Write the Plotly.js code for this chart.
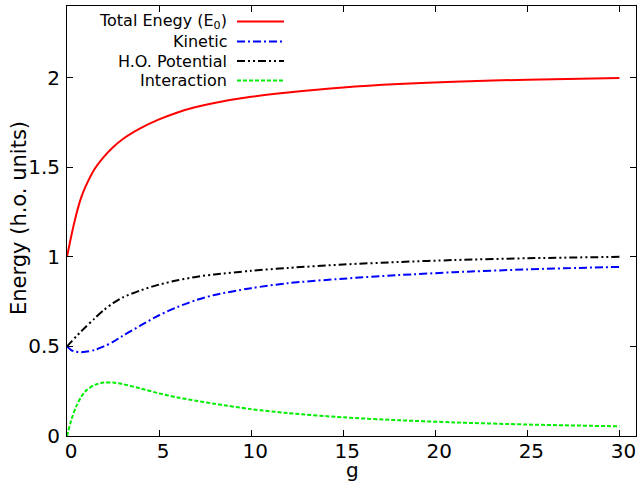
<!DOCTYPE html>
<html>
<head>
<meta charset="utf-8">
<script src="https://cdn.plot.ly/plotly-3.0.1.min.js"></script>
<style>html,body{margin:0;padding:0;background:#fff;}#chart{width:637px;height:482px;}</style>
</head>
<body>
<div id="chart"></div>
<script>
// coupling strength g
const gValues = [0, 0.25, 0.5, 0.75, 1, 1.5, 2, 2.5, 3, 4, 5, 6, 7, 8, 10, 12, 15, 18, 21, 25, 30];
// energies (h.o. units)
const totalEnergy = [1.0, 1.125, 1.235, 1.325, 1.39, 1.49, 1.558, 1.612, 1.655, 1.718, 1.767, 1.806, 1.836, 1.859, 1.893, 1.917, 1.945, 1.964, 1.977, 1.989, 1.998];
const kineticEnergy = [0.5, 0.478, 0.47, 0.468, 0.47, 0.48, 0.50, 0.525, 0.558, 0.617, 0.674, 0.72, 0.758, 0.787, 0.825, 0.853, 0.878, 0.898, 0.914, 0.93, 0.944];
const potentialEnergy = [0.5, 0.528, 0.556, 0.582, 0.607, 0.656, 0.703, 0.742, 0.772, 0.813, 0.845, 0.869, 0.888, 0.902, 0.922, 0.938, 0.957, 0.971, 0.982, 0.992, 1.0];
const interactionEnergy = [0, 0.095, 0.165, 0.215, 0.25, 0.285, 0.298, 0.298, 0.29, 0.265, 0.238, 0.215, 0.197, 0.18, 0.15, 0.128, 0.104, 0.088, 0.076, 0.064, 0.054];

const seriesNames = ['Total Enegy (E<sub>0</sub>)', 'Kinetic', 'H.O. Potential', 'Interaction'];
const xTickVals = [0, 5, 10, 15, 20, 25, 30];
const yTickVals = [0, 0.5, 1, 1.5, 2];
const xTitle = 'g';
const yTitle = 'Energy (h.o. units)';

const styles = [
  {color: '#ff0000', dash: 'solid'},
  {color: '#0000ff', dash: '8px,3px,2px,3px'},
  {color: '#000000', dash: '8px,3px,2px,3px,2px,3px'},
  {color: '#00ee00', dash: '4px,2px'}
];
const seriesValues = [totalEnergy, kineticEnergy, potentialEnergy, interactionEnergy];

const traces = seriesValues.map((vals, i) => ({
  x: gValues, y: vals, type: 'scatter', mode: 'lines', name: seriesNames[i],
  line: {color: styles[i].color, dash: styles[i].dash, width: 2, shape: 'spline', smoothing: 0.8},
  showlegend: false, hoverinfo: 'skip'
}));

// legend-like key (text right aligned, sample line to its right)
const W = 637, H = 482, mL = 67, mR = 1, mT = 6, mB = 46;
const pw = W - mL - mR, ph = H - mT - mB;
const px2x = p => (p - mL) / pw;
const py2y = p => (H - mB - p) / ph;
const rowY = [21.5, 41.5, 61, 80.5];
const annotations = seriesNames.map((n, i) => ({
  xref: 'paper', yref: 'paper', x: px2x(229), y: py2y(rowY[i]),
  xanchor: 'right', yanchor: 'middle', text: n, showarrow: false,
  font: {family: 'DejaVu Sans', size: 16, color: '#000'}
}));
// axis titles
annotations.push({
  xref: 'paper', yref: 'paper', x: px2x(19), y: py2y(218),
  xanchor: 'center', yanchor: 'middle', text: yTitle, textangle: -90, showarrow: false,
  font: {family: 'DejaVu Sans', size: 21, color: '#000'}
});
annotations.push({
  xref: 'paper', yref: 'paper', x: px2x(352), y: py2y(470),
  xanchor: 'center', yanchor: 'middle', text: xTitle, showarrow: false,
  font: {family: 'DejaVu Sans', size: 20, color: '#000'}
});
const shapes = styles.map((s, i) => ({
  type: 'line', xref: 'paper', yref: 'paper',
  x0: px2x(237), x1: px2x(284), y0: py2y(rowY[i]), y1: py2y(rowY[i]),
  line: {color: s.color, dash: s.dash, width: 2}
}));

const axisCommon = {
  showline: true, linecolor: '#000', linewidth: 1, mirror: 'ticks',
  ticks: 'inside', ticklen: 6, tickcolor: '#000', tickwidth: 1,
  showgrid: false, zeroline: false, automargin: false,
  tickfont: {family: 'DejaVu Sans', size: 20, color: '#000'}
};

const layout = {
  width: W, height: H,
  margin: {l: mL, r: mR, t: mT, b: mB, pad: 0},
  paper_bgcolor: '#fff', plot_bgcolor: '#fff',
  font: {family: 'DejaVu Sans', color: '#000'},
  showlegend: false,
  xaxis: Object.assign({}, axisCommon, {
    range: [0, 30.9], tickmode: 'array', tickvals: xTickVals,
    ticklabelshift: 4, ticklabelstandoff: -3
  }),
  yaxis: Object.assign({}, axisCommon, {
    range: [0, 2.4], tickmode: 'array', tickvals: yTickVals,
    ticklabelstandoff: 2
  }),
  annotations: annotations,
  shapes: shapes
};

Plotly.newPlot('chart', traces, layout, {displayModeBar: false, staticPlot: true});
</script>
</body>
</html>
